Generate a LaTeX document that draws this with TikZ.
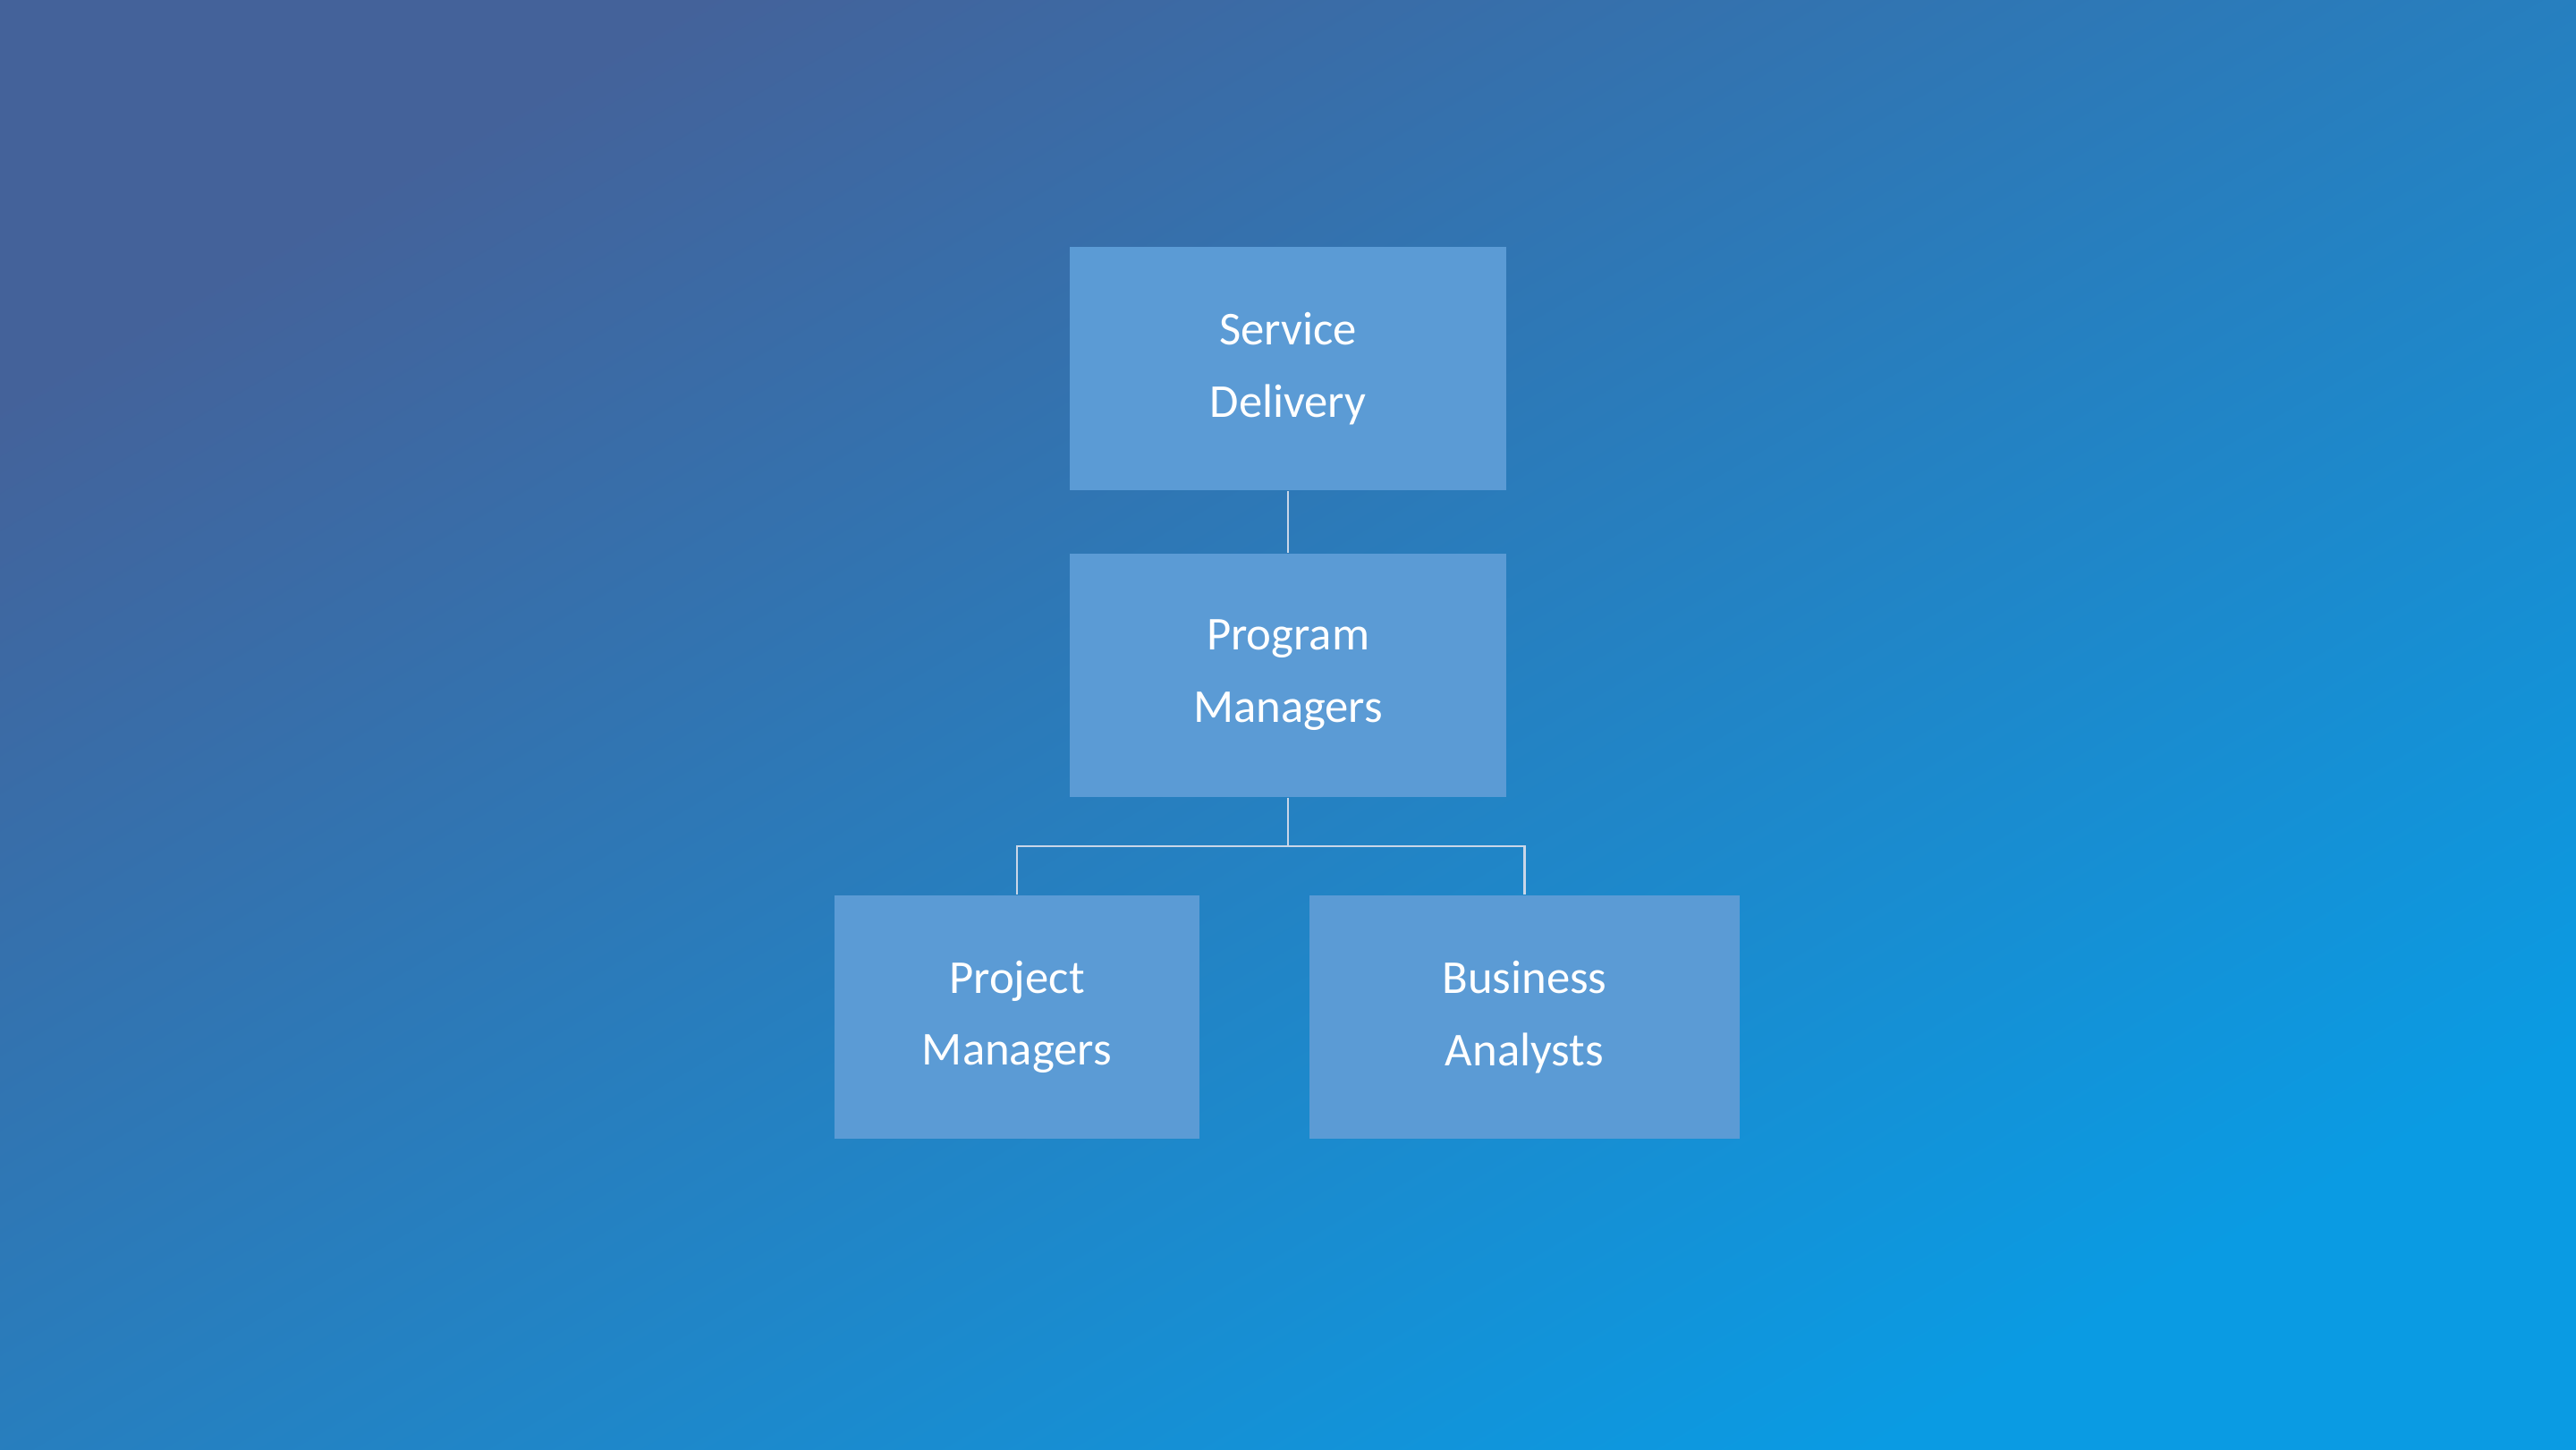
\documentclass[tikz,border=0pt]{standalone}
\usepackage{fontspec}
\setmainfont{Carlito}
\usetikzlibrary{positioning,shadings}
\definecolor{bgtl}{HTML}{44629A}
\definecolor{bgbr}{HTML}{0A9BE3}
\definecolor{boxfill}{HTML}{5B9BD5}
\definecolor{linegray}{HTML}{C9D6E8}

\begin{document}
\begin{tikzpicture}[
    x=0.018367cm, y=-0.018367cm,
    orgbox/.style={
        rectangle,
        fill=boxfill,
        inner sep=0pt,
        minimum height=148*0.018367cm,
        align=center,
        text=white,
        font=\fontsize{15pt}{23pt}\selectfont
    },
    link/.style={
        draw=linegray,
        line width=0.6pt
    }
]

% Background
\shade[top color=bgtl, bottom color=bgbr, shading angle=30]
    (0,0) rectangle (1568,882);
\useasboundingbox (0,0) rectangle (1568,882);

% Boxes
\node[orgbox, minimum width=266*0.018367cm] (service) at (784,224.5) {Service\\Delivery};
\node[orgbox, minimum width=266*0.018367cm] (program) at (784,411) {Program\\Managers};
\node[orgbox, minimum width=222*0.018367cm] (project) at (619,619) {Project\\Managers};
\node[orgbox, minimum width=262*0.018367cm] (business) at (928,619) {Business\\Analysts};

% Connectors
\coordinate (fork) at (784,515);
\draw[link] (service.south) -- (program.north);
\draw[link] (program.south) -- (fork);
\draw[link] (fork) -| (project.north);
\draw[link] (fork) -| (business.north);

\end{tikzpicture}
\end{document}
